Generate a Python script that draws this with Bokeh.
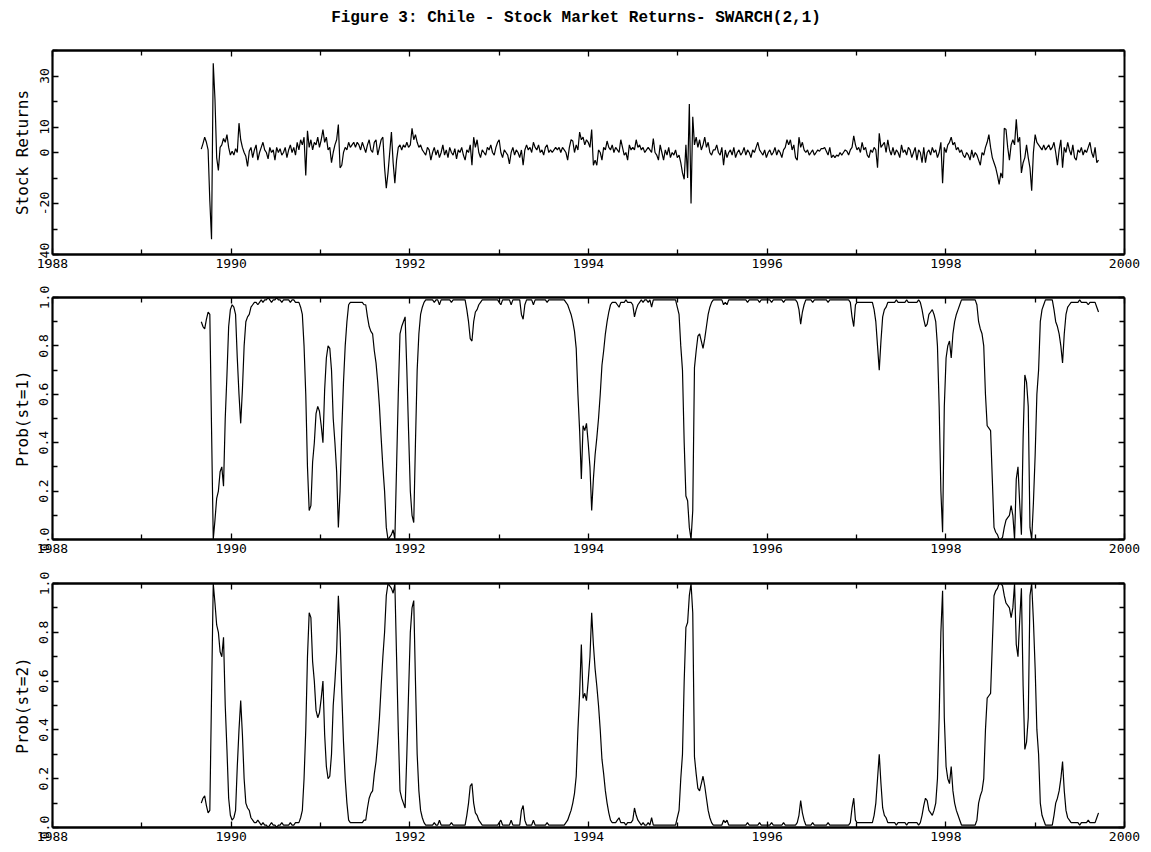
import pandas as pd
from bokeh.plotting import figure
from bokeh.layouts import column
from bokeh.models import FixedTicker, PrintfTickFormatter, Range1d, LinearAxis, CustomLabelingPolicy
from bokeh.core.properties import value
from bokeh.embed import file_html
from bokeh.resources import INLINE

title_text = "Figure 3: Chile - Stock Market Returns- SWARCH(2,1)"
start_date = "1989-09-01"   # first weekly observation
x_start, x_end = 1988, 2000

returns = [
    1.3, 3.5, 6.0, 4.0, 1.0, -19.0, -34.0, 35.0, 21.0, -2.0, -7.0, 2.0, 3.0, 5.5, 4.0, 7.0, 2.0, -1.0, 0.5, -1.0, 1.5, 0.0, 11.5, 5.0, 2.0,
    0.0, -1.5, -5.5, 0.5, 2.0, -2.0, 1.0, 3.0, -3.0, 0.0, 2.0, 4.0, 1.0, 0.0, -2.5, 2.0, 0.0, 1.0, -3.0, 2.0, 0.0, 1.5, -1.0, 0.0, 2.0,
    -2.0, 1.0, 3.0, 0.0, 2.0, -1.0, 4.0, 1.0, 5.0, 3.0, 6.0, -9.0, 8.5, 2.0, 5.0, 1.0, 4.0, 3.0, 6.0, 2.0, 5.0, 9.0, 4.0, 6.0, 1.0,
    2.0, -4.0, 0.0, 3.0, 5.0, 11.0, -6.0, -5.0, 0.0, 2.0, 1.0, 4.0, 2.0, 3.0, 4.0, 2.0, 4.0, 3.0, 1.0, 4.0, 2.0, 0.0, 3.0, 5.0, 1.0,
    0.0, 4.0, 5.0, -1.0, 2.0, 5.0, 6.0, -6.0, -14.0, -8.0, 0.0, 8.0, -4.0, -12.0, -3.0, 2.0, 3.0, 1.0, 3.0, 2.0, 4.0, 2.0, 3.0, 9.5, 5.0,
    7.0, 4.0, 2.0, 3.0, 1.0, 0.0, -1.0, 2.0, 1.0, -3.0, 0.0, 2.0, -1.0, 1.0, -2.0, 0.0, 3.0, -1.0, 1.0, -2.0, 2.0, 0.0, -1.0, 1.5, -2.5,
    1.0, 0.0, 2.0, -1.0, -3.0, 1.0, 0.0, 3.0, -5.0, 6.0, 2.0, 5.0, 0.0, -2.0, 1.0, 0.0, -1.0, 2.0, 1.0, 3.0, 0.0, -1.0, 2.0, 4.0, 5.0,
    0.0, -2.0, 1.0, 0.0, -1.0, -4.5, 0.0, 2.0, -1.0, 1.0, 0.0, -2.0, 1.0, -5.0, 1.0, 3.0, 1.0, 2.0, 0.0, 4.0, 2.0, 1.0, 3.0, 0.0, 1.0,
    -1.0, 2.0, 3.0, 0.0, 1.0, 0.0, 1.0, 2.0, 1.0, 2.0, 0.0, 2.0, 1.0, 0.0, -3.0, 2.0, 5.0, 4.5, 0.0, 3.0, 1.0, 8.0, 5.0, 6.0, 3.0,
    5.0, 4.0, 2.0, 9.0, -5.0, -3.0, -5.0, 1.0, 0.0, -3.0, 2.0, 1.0, 4.5, 2.0, 1.0, 3.0, 0.0, 2.0, 1.0, 0.0, 5.0, 2.0, -1.0, 0.0, -3.0,
    3.0, 1.0, 2.0, 1.0, 5.0, 2.0, 3.0, 1.0, 2.0, 0.0, 1.0, 2.0, 1.0, 0.0, 5.5, 0.0, -1.0, -3.0, 3.0, 0.0, -3.0, 1.0, -1.0, 2.0, -2.0,
    0.0, -1.0, 1.0, -2.0, -1.0, -4.0, -8.0, -10.5, 3.0, -10.0, 19.0, -20.0, 14.0, 3.0, 6.0, 2.0, 5.0, 1.0, 3.0, 6.0, 2.0, 4.0, 0.0, -1.0, 1.0,
    1.0, 3.0, 0.0, -1.0, 2.0, -5.0, 1.0, -2.0, 0.0, 1.0, -1.0, 2.0, -2.0, 0.0, 1.0, -1.0, 0.0, 2.0, -1.0, 1.0, 0.0, -2.0, 1.0, 0.0, 2.0,
    4.0, 1.0, 0.0, -1.0, 1.0, -2.0, 0.0, 1.0, -1.0, 0.0, 2.0, -1.0, 1.0, 0.0, -2.0, 1.0, 2.0, 5.0, 3.0, 5.0, 1.0, 3.0, -2.0, -3.0, 6.0,
    2.0, 4.0, 1.0, 0.0, 1.0, -1.0, 0.0, 1.0, -1.0, 0.0, 1.0, 0.5, 1.5, 1.5, 2.0, 0.5, -1.0, 2.0, -2.0, -1.0, -2.0, -1.0, -1.5, 0.0, -1.0,
    0.0, 1.0, 0.5, -1.0, 1.0, 2.0, 6.5, 3.0, 1.0, 2.0, 0.0, 4.0, 1.0, 2.0, -1.0, -2.0, 1.0, 0.0, 2.0, 1.0, -6.0, 7.5, 2.0, 3.0, 4.0,
    0.0, 5.0, 1.0, -1.0, 2.0, -1.0, 1.0, 0.0, -2.0, 3.0, 0.0, 1.0, -1.0, 2.0, 1.0, -2.0, 0.0, 2.0, -3.0, 1.0, 0.0, -4.0, 2.0, -4.0, 0.0,
    1.0, -1.0, 2.0, 0.0, 1.0, -2.0, 0.0, 4.0, -12.0, 2.0, 0.0, 3.0, 4.0, 6.0, 3.0, 4.0, 1.0, 2.0, 0.0, 1.0, -1.0, -2.0, 0.0, -1.0, -3.0,
    1.0, -2.0, 0.0, -1.0, -3.0, -5.0, 0.0, -1.0, 2.0, 4.0, 7.0, 2.0, -2.0, -4.0, -6.0, -9.0, -12.5, -8.0, -10.0, 9.5, 9.0, 2.0, -3.0, 3.0, 5.0,
    3.0, 13.0, 4.0, 6.0, -8.0, -4.0, -2.0, 3.0, -2.0, -6.0, -15.0, 0.0, 7.0, 4.0, 3.0, 2.0, 1.0, 3.0, 1.0, 2.0, 3.0, 1.0, 2.0, 4.0, 0.0,
    -5.0, 1.0, 5.0, -6.0, 2.0, 0.0, 4.0, 1.0, -1.0, 3.0, -2.0, -3.0, 1.0, 0.0, 2.0, -1.0, 1.0, 0.0, 2.0, 4.0, 0.0, -2.0, 2.0, -4.0, -3.0,
]

prob_state1 = [
    0.90, 0.88, 0.87, 0.91, 0.94, 0.93, 0.46, 0.00, 0.08, 0.17, 0.20, 0.28, 0.30, 0.22, 0.50, 0.68, 0.88, 0.95, 0.97, 0.96, 0.93, 0.75, 0.60, 0.48, 0.62,
    0.80, 0.90, 0.92, 0.93, 0.96, 0.97, 0.98, 0.98, 0.97, 0.98, 0.99, 0.98, 0.99, 0.99, 1.00, 0.99, 0.98, 0.99, 0.99, 1.00, 0.99, 0.99, 0.98, 0.99, 0.99,
    0.99, 0.99, 0.98, 0.99, 0.99, 0.98, 0.98, 0.98, 0.96, 0.93, 0.80, 0.60, 0.30, 0.12, 0.14, 0.32, 0.40, 0.52, 0.55, 0.53, 0.47, 0.40, 0.62, 0.75, 0.80,
    0.79, 0.70, 0.50, 0.40, 0.28, 0.05, 0.20, 0.45, 0.65, 0.80, 0.90, 0.97, 0.98, 0.98, 0.98, 0.98, 0.98, 0.98, 0.98, 0.98, 0.97, 0.97, 0.92, 0.88, 0.86,
    0.85, 0.78, 0.73, 0.65, 0.55, 0.42, 0.30, 0.20, 0.05, 0.00, 0.01, 0.02, 0.04, 0.00, 0.30, 0.60, 0.85, 0.88, 0.90, 0.92, 0.70, 0.45, 0.20, 0.10, 0.07,
    0.40, 0.70, 0.85, 0.93, 0.96, 0.98, 0.99, 0.99, 0.99, 0.99, 0.99, 0.98, 0.99, 0.99, 0.97, 0.99, 0.99, 0.99, 0.99, 0.99, 0.99, 0.98, 0.99, 0.99, 0.99,
    0.99, 0.99, 0.99, 0.99, 0.99, 0.95, 0.90, 0.83, 0.82, 0.90, 0.94, 0.95, 0.97, 0.98, 0.99, 0.99, 0.99, 0.99, 0.99, 0.99, 0.99, 0.99, 0.99, 0.99, 0.98,
    0.97, 0.99, 0.99, 0.99, 0.99, 0.99, 0.97, 0.99, 0.99, 0.99, 0.99, 0.99, 0.93, 0.91, 0.97, 0.99, 0.99, 0.99, 0.99, 0.97, 0.99, 0.99, 0.99, 0.99, 0.99,
    0.99, 0.99, 0.98, 0.99, 0.99, 0.99, 0.99, 0.99, 0.99, 0.99, 0.99, 0.99, 0.99, 0.98, 0.97, 0.95, 0.93, 0.90, 0.86, 0.79, 0.60, 0.45, 0.25, 0.47, 0.45,
    0.48, 0.40, 0.30, 0.12, 0.25, 0.35, 0.42, 0.50, 0.60, 0.72, 0.78, 0.85, 0.90, 0.94, 0.97, 0.98, 0.98, 0.98, 0.97, 0.96, 0.98, 0.98, 0.98, 0.99, 0.98,
    0.98, 0.98, 0.97, 0.92, 0.95, 0.97, 0.98, 0.99, 0.98, 0.99, 0.99, 0.98, 0.99, 0.96, 0.99, 0.99, 0.99, 0.99, 0.99, 0.99, 0.99, 0.99, 0.99, 0.99, 0.99,
    0.99, 0.99, 0.99, 0.96, 0.93, 0.80, 0.70, 0.40, 0.18, 0.16, 0.05, 0.00, 0.12, 0.71, 0.78, 0.84, 0.85, 0.82, 0.79, 0.83, 0.88, 0.93, 0.96, 0.98, 0.99,
    0.99, 0.99, 0.99, 0.99, 0.99, 0.97, 0.98, 0.97, 0.99, 0.99, 0.99, 0.99, 0.99, 0.99, 0.99, 0.99, 0.99, 0.99, 0.99, 0.98, 0.99, 0.99, 0.99, 0.99, 0.99,
    0.99, 0.98, 0.99, 0.99, 0.99, 0.99, 0.99, 0.99, 0.98, 0.99, 0.99, 0.99, 0.99, 0.99, 0.99, 0.98, 0.99, 0.99, 0.99, 0.99, 0.99, 0.99, 0.99, 0.98, 0.95,
    0.89, 0.94, 0.97, 0.99, 0.99, 0.99, 0.99, 0.98, 0.99, 0.99, 0.99, 0.99, 0.99, 0.99, 0.99, 0.99, 0.98, 0.99, 0.99, 0.99, 0.99, 0.99, 0.99, 0.99, 0.99,
    0.99, 0.99, 0.99, 0.99, 0.98, 0.92, 0.88, 0.97, 0.98, 0.98, 0.98, 0.98, 0.98, 0.98, 0.98, 0.98, 0.98, 0.98, 0.95, 0.90, 0.80, 0.70, 0.82, 0.92, 0.95,
    0.96, 0.98, 0.98, 0.98, 0.98, 0.98, 0.99, 0.98, 0.98, 0.98, 0.98, 0.98, 0.99, 0.98, 0.98, 0.98, 0.98, 0.98, 0.98, 0.99, 0.98, 0.95, 0.91, 0.88, 0.89,
    0.93, 0.94, 0.95, 0.93, 0.90, 0.80, 0.55, 0.20, 0.03, 0.55, 0.75, 0.80, 0.82, 0.75, 0.85, 0.90, 0.93, 0.95, 0.97, 0.99, 0.99, 0.99, 0.99, 0.99, 0.99,
    0.99, 0.99, 0.99, 0.97, 0.90, 0.87, 0.85, 0.80, 0.60, 0.47, 0.46, 0.45, 0.25, 0.05, 0.03, 0.02, 0.00, 0.00, 0.01, 0.05, 0.08, 0.09, 0.10, 0.14, 0.10,
    0.00, 0.25, 0.30, 0.15, 0.02, 0.42, 0.68, 0.65, 0.55, 0.05, 0.00, 0.15, 0.35, 0.60, 0.70, 0.90, 0.95, 0.97, 0.99, 0.99, 0.99, 0.99, 0.99, 0.95, 0.90,
    0.88, 0.85, 0.80, 0.73, 0.85, 0.93, 0.96, 0.97, 0.98, 0.98, 0.98, 0.98, 0.98, 0.99, 0.98, 0.98, 0.98, 0.98, 0.97, 0.98, 0.98, 0.98, 0.98, 0.96, 0.94,
]

prob_state2 = [
    0.10, 0.12, 0.13, 0.09, 0.06, 0.07, 0.54, 1.00, 0.92, 0.83, 0.80, 0.72, 0.70, 0.78, 0.50, 0.32, 0.12, 0.05, 0.03, 0.04, 0.07, 0.25, 0.40, 0.52, 0.38,
    0.20, 0.10, 0.08, 0.07, 0.04, 0.03, 0.02, 0.02, 0.03, 0.02, 0.01, 0.02, 0.01, 0.01, 0.00, 0.01, 0.02, 0.01, 0.01, 0.00, 0.01, 0.01, 0.02, 0.01, 0.01,
    0.01, 0.01, 0.02, 0.01, 0.01, 0.02, 0.02, 0.02, 0.04, 0.07, 0.20, 0.40, 0.70, 0.88, 0.86, 0.68, 0.60, 0.48, 0.45, 0.47, 0.53, 0.60, 0.38, 0.25, 0.20,
    0.21, 0.30, 0.50, 0.60, 0.72, 0.95, 0.80, 0.55, 0.35, 0.20, 0.10, 0.03, 0.02, 0.02, 0.02, 0.02, 0.02, 0.02, 0.02, 0.02, 0.03, 0.03, 0.08, 0.12, 0.14,
    0.15, 0.22, 0.27, 0.35, 0.45, 0.58, 0.70, 0.80, 0.95, 1.00, 0.99, 0.98, 0.96, 1.00, 0.70, 0.40, 0.15, 0.12, 0.10, 0.08, 0.30, 0.55, 0.80, 0.90, 0.93,
    0.60, 0.30, 0.15, 0.07, 0.04, 0.02, 0.01, 0.01, 0.01, 0.01, 0.01, 0.02, 0.01, 0.01, 0.03, 0.01, 0.01, 0.01, 0.01, 0.01, 0.01, 0.02, 0.01, 0.01, 0.01,
    0.01, 0.01, 0.01, 0.01, 0.01, 0.05, 0.10, 0.17, 0.18, 0.10, 0.06, 0.05, 0.03, 0.02, 0.01, 0.01, 0.01, 0.01, 0.01, 0.01, 0.01, 0.01, 0.01, 0.01, 0.02,
    0.03, 0.01, 0.01, 0.01, 0.01, 0.01, 0.03, 0.01, 0.01, 0.01, 0.01, 0.01, 0.07, 0.09, 0.03, 0.01, 0.01, 0.01, 0.01, 0.03, 0.01, 0.01, 0.01, 0.01, 0.01,
    0.01, 0.01, 0.02, 0.01, 0.01, 0.01, 0.01, 0.01, 0.01, 0.01, 0.01, 0.01, 0.01, 0.02, 0.03, 0.05, 0.07, 0.10, 0.14, 0.21, 0.40, 0.55, 0.75, 0.53, 0.55,
    0.52, 0.60, 0.70, 0.88, 0.75, 0.65, 0.58, 0.50, 0.40, 0.28, 0.22, 0.15, 0.10, 0.06, 0.03, 0.02, 0.02, 0.02, 0.03, 0.04, 0.02, 0.02, 0.02, 0.01, 0.02,
    0.02, 0.02, 0.03, 0.08, 0.05, 0.03, 0.02, 0.01, 0.02, 0.01, 0.01, 0.02, 0.01, 0.04, 0.01, 0.01, 0.01, 0.01, 0.01, 0.01, 0.01, 0.01, 0.01, 0.01, 0.01,
    0.01, 0.01, 0.01, 0.04, 0.07, 0.20, 0.30, 0.60, 0.82, 0.84, 0.95, 1.00, 0.88, 0.29, 0.22, 0.16, 0.15, 0.18, 0.21, 0.17, 0.12, 0.07, 0.04, 0.02, 0.01,
    0.01, 0.01, 0.01, 0.01, 0.01, 0.03, 0.02, 0.03, 0.01, 0.01, 0.01, 0.01, 0.01, 0.01, 0.01, 0.01, 0.01, 0.01, 0.01, 0.02, 0.01, 0.01, 0.01, 0.01, 0.01,
    0.01, 0.02, 0.01, 0.01, 0.01, 0.01, 0.01, 0.01, 0.02, 0.01, 0.01, 0.01, 0.01, 0.01, 0.01, 0.02, 0.01, 0.01, 0.01, 0.01, 0.01, 0.01, 0.01, 0.02, 0.05,
    0.11, 0.06, 0.03, 0.01, 0.01, 0.01, 0.01, 0.02, 0.01, 0.01, 0.01, 0.01, 0.01, 0.01, 0.01, 0.01, 0.02, 0.01, 0.01, 0.01, 0.01, 0.01, 0.01, 0.01, 0.01,
    0.01, 0.01, 0.01, 0.01, 0.02, 0.08, 0.12, 0.03, 0.02, 0.02, 0.02, 0.02, 0.02, 0.02, 0.02, 0.02, 0.02, 0.02, 0.05, 0.10, 0.20, 0.30, 0.18, 0.08, 0.05,
    0.04, 0.02, 0.02, 0.02, 0.02, 0.02, 0.01, 0.02, 0.02, 0.02, 0.02, 0.02, 0.01, 0.02, 0.02, 0.02, 0.02, 0.02, 0.02, 0.01, 0.02, 0.05, 0.09, 0.12, 0.11,
    0.07, 0.06, 0.05, 0.07, 0.10, 0.20, 0.45, 0.80, 0.97, 0.45, 0.25, 0.20, 0.18, 0.25, 0.15, 0.10, 0.07, 0.05, 0.03, 0.01, 0.01, 0.01, 0.01, 0.01, 0.01,
    0.01, 0.01, 0.01, 0.03, 0.10, 0.13, 0.15, 0.20, 0.40, 0.53, 0.54, 0.55, 0.75, 0.95, 0.97, 0.98, 1.00, 1.00, 0.99, 0.95, 0.92, 0.91, 0.90, 0.86, 0.90,
    1.00, 0.75, 0.70, 0.85, 0.98, 0.58, 0.32, 0.35, 0.45, 0.95, 1.00, 0.85, 0.65, 0.40, 0.30, 0.10, 0.05, 0.03, 0.01, 0.01, 0.01, 0.01, 0.01, 0.05, 0.10,
    0.12, 0.15, 0.20, 0.27, 0.15, 0.07, 0.04, 0.03, 0.02, 0.02, 0.02, 0.02, 0.02, 0.01, 0.02, 0.02, 0.02, 0.02, 0.03, 0.02, 0.02, 0.02, 0.02, 0.04, 0.06,
]

x_ticks = [1988, 1990, 1992, 1994, 1996, 1998, 2000]
x_minor_ticks = [1989, 1991, 1993, 1995, 1997, 1999]
ret_ticks = [-40, -20, 0, 10, 30]
ret_minor_ticks = [-30, -10, 20, 40]
prob_ticks = [0.0, 0.2, 0.4, 0.6, 0.8, 1.0]
prob_minor_ticks = [0.1, 0.3, 0.5, 0.7, 0.9]

LABEL_FONT = "DejaVu Sans Mono"
W = 1151
BORDER_L, BORDER_R = 52, 27


def decimal_years(n):
    d = pd.date_range(start_date, periods=n, freq="7D")
    return list(d.year + (d.dayofyear - 1) / 365.25)


def style_axis(ax, ticks, minor, line_w, vertical=False, fmt=None, labels=True):
    ax.ticker = FixedTicker(ticks=ticks, minor_ticks=minor)
    if fmt is not None:
        ax.formatter = PrintfTickFormatter(format=fmt)
    ax.major_tick_in = 6
    ax.major_tick_out = 0
    ax.minor_tick_in = 5
    ax.minor_tick_out = 0
    ax.major_tick_line_width = 1.3
    ax.minor_tick_line_width = 1.3
    ax.major_tick_line_color = "black"
    ax.minor_tick_line_color = "black"
    ax.axis_line_width = line_w
    ax.axis_line_color = "black"
    ax.major_label_text_font = LABEL_FONT
    ax.major_label_text_color = "black"
    ax.major_label_text_font_size = "13px"
    ax.major_label_standoff = 4
    if vertical:
        ax.major_label_orientation = "vertical"
    if not labels:
        # mirrored box axis: ticks only, no labels are drawn
        ax.major_label_policy = CustomLabelingPolicy(code="return new Set()")
        ax.major_label_standoff = 0


def make_panel(y, ylabel, yr, yticks, yminor, yfmt, top, frame_h, bottom):
    p = figure(width=W, height=top + frame_h + bottom,
               output_backend="svg", toolbar_location=None,
               x_range=Range1d(x_start, x_end), y_range=Range1d(yr[0], yr[1]),
               min_border_left=BORDER_L, min_border_right=BORDER_R,
               min_border_top=top, min_border_bottom=bottom)
    p.background_fill_color = "white"
    p.border_fill_color = "white"
    p.outline_line_color = None
    p.xgrid.visible = False
    p.ygrid.visible = False

    x = decimal_years(len(y))
    p.line(x, y, line_color="black", line_width=1.2)

    style_axis(p.xaxis[0], x_ticks, x_minor_ticks, 2.5)
    style_axis(p.yaxis[0], yticks, yminor, 2.2, vertical=True, fmt=yfmt)
    top_ax = LinearAxis()
    right_ax = LinearAxis()
    style_axis(top_ax, x_ticks, x_minor_ticks, 2.5, labels=False)
    style_axis(right_ax, yticks, yminor, 2.0, labels=False)
    p.add_layout(top_ax, "above")
    p.add_layout(right_ax, "right")

    p.yaxis[0].axis_label = ylabel
    p.yaxis[0].axis_label_text_font = LABEL_FONT
    p.yaxis[0].axis_label_text_font_size = "16px"
    p.yaxis[0].axis_label_text_font_style = "normal"
    p.yaxis[0].axis_label_text_color = "black"
    p.yaxis[0].axis_label_standoff = 5
    return p


# title strip: same frame as the panels, text shifted so it is centred on the page
TITLE_H = 38
pt = figure(width=W, height=TITLE_H, output_backend="svg", toolbar_location=None,
            x_range=Range1d(0, 1), y_range=Range1d(0, TITLE_H),
            x_axis_type=None, y_axis_type=None,
            min_border_left=BORDER_L, min_border_right=BORDER_R,
            min_border_top=0, min_border_bottom=0)
pt.outline_line_color = None
pt.background_fill_color = "white"
pt.border_fill_color = "white"
pt.xgrid.visible = False
pt.ygrid.visible = False
frame_centre = BORDER_L + (W - BORDER_L - BORDER_R) / 2
pt.text(x=[0.5], y=[TITLE_H - 17], text=[title_text],
        x_offset=W / 2 - frame_centre,
        text_font=value("Liberation Mono"), text_font_style="bold",
        text_font_size="16px", text_color="black",
        text_align="center", text_baseline="middle")

p1 = make_panel(returns, "Stock Returns", (-40, 40), ret_ticks, ret_minor_ticks, "%d", 10, 206, 22)
p2 = make_panel(prob_state1, "Prob(st=1)", (0, 1), prob_ticks, prob_minor_ticks, "%.1f", 21, 242, 22)
p3 = make_panel(prob_state2, "Prob(st=2)", (0, 1), prob_ticks, prob_minor_ticks, "%.1f", 22, 244, 25)

layout = column(pt, p1, p2, p3, spacing=0)

with open("out.html", "w") as f:
    f.write(file_html(layout, INLINE))
